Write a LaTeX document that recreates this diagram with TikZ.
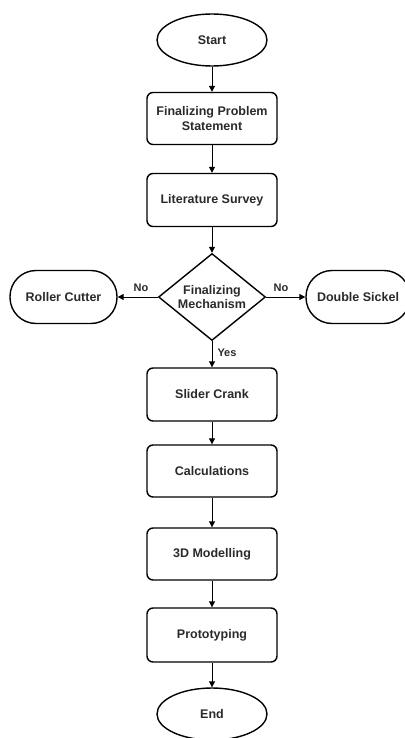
\documentclass[tikz,border=0pt]{standalone}
\usepackage{fontspec}
\setmainfont{Liberation Sans}
\usetikzlibrary{shapes.geometric,arrows.meta}
\definecolor{txt}{HTML}{2A2A2A}
\begin{document}
\begin{tikzpicture}[x=1pt,y=-1pt,
  base/.style={draw=black,line width=1.4pt,fill=white,text=txt,font=\fontsize{12.5}{14.5}\selectfont\bfseries,align=center,inner sep=0pt},
  term/.style={base,ellipse,minimum width=110pt,minimum height=52pt},
  procbox/.style={base,rectangle,rounded corners=6pt,minimum width=130pt,minimum height=53pt},
  pill/.style={base,rectangle,rounded corners=26pt,minimum width=107pt,minimum height=53pt},
  decide/.style={base,diamond,aspect=1.23,minimum width=107pt,minimum height=87pt},
  conn/.style={draw=black,line width=1pt,-{Triangle[length=6pt,width=6pt]}},
  lbl/.style={text=txt,font=\fontsize{11}{13}\selectfont\bfseries,inner sep=0pt}]
\useasboundingbox (0,0) rectangle (404,738);
\node[term] (start) at (212,40) {Start};
\node[procbox,minimum height=52pt] (fps) at (212,118.5) {Finalizing Problem\\Statement};
\node[procbox] (lit) at (212,200) {Literature Survey};
\node[decide] (mech) at (212,297) {Finalizing\\Mechanism};
\node[pill] (roll) at (63.5,297) {Roller Cutter};
\node[pill,minimum width=104pt] (dbl) at (358,297) {Double Sickel};
\node[procbox] (slide) at (212,394.5) {Slider Crank};
\node[procbox,minimum height=52pt] (calc) at (212,471) {Calculations};
\node[procbox,minimum height=52pt] (model) at (212,554) {3D Modelling};
\node[procbox,minimum height=54pt] (proto) at (212,635) {Prototyping};
\node[term] (end) at (212,714) {End};
\draw[conn] (start) -- (fps);
\draw[conn] (fps) -- (lit);
\draw[conn] (lit) -- (mech);
\draw[conn] (mech) -- node[lbl,pos=0.42,above=5pt] {No} (roll);
\draw[conn] (mech) -- node[lbl,pos=0.38,above=5pt] {No} (dbl);
\draw[conn] (mech) -- node[lbl,pos=0.45,right=5pt] {Yes} (slide);
\draw[conn] (slide) -- (calc);
\draw[conn] (calc) -- (model);
\draw[conn] (model) -- (proto);
\draw[conn] (proto) -- (end);
\end{tikzpicture}
\end{document}
